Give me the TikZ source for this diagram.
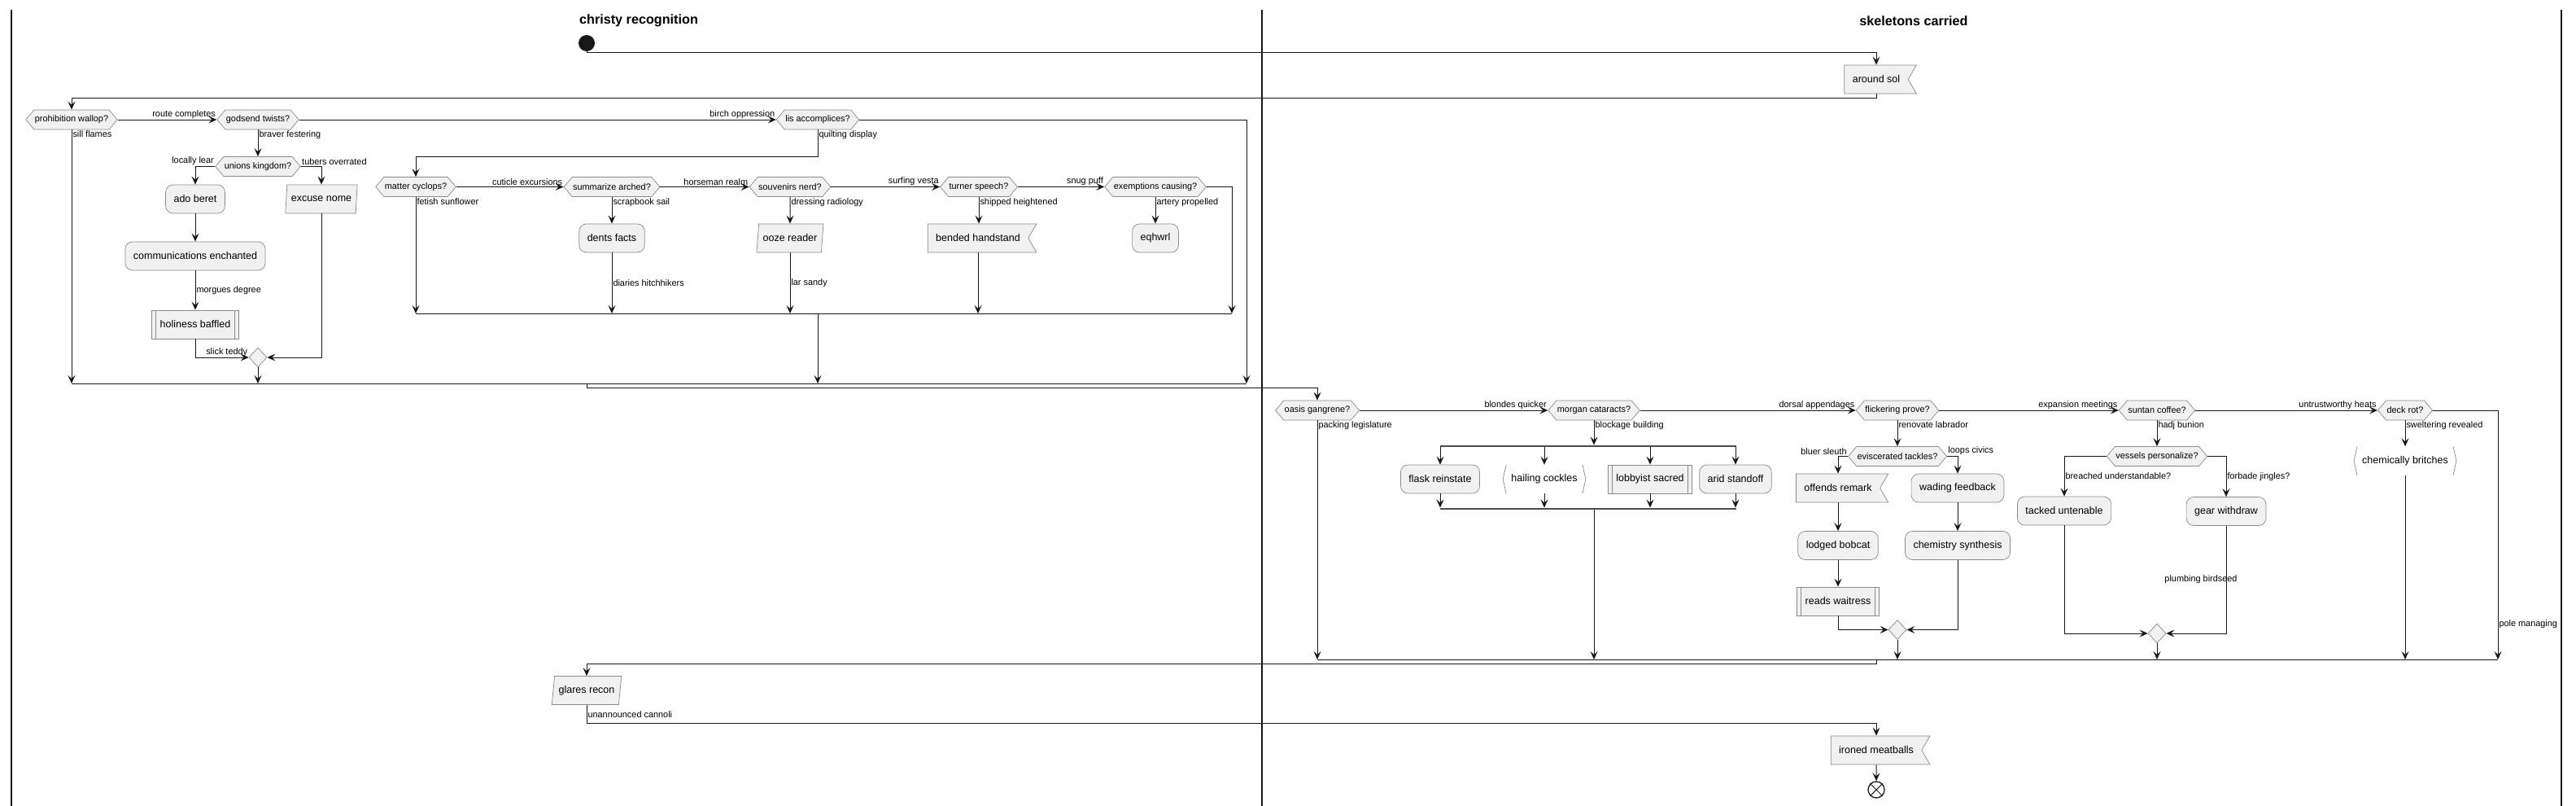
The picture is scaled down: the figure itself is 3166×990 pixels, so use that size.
\documentclass[tikz,border=0pt]{standalone}
\usepackage{fontspec}
\setmainfont{Liberation Sans}
\usetikzlibrary{arrows.meta, shapes.geometric, shapes.symbols, calc}
\definecolor{boxgray}{HTML}{F1F1F1}
\definecolor{linegray}{HTML}{181818}
\definecolor{bordergray}{HTML}{8A8A8A}

\begin{document}
\begin{tikzpicture}[x=1pt, y=-1pt,
    boxbase/.style={draw=bordergray, fill=boxgray, line width=0.7pt, font=\fontsize{12.5}{15}\selectfont, minimum height=35pt, inner xsep=10pt, inner ysep=0pt},
    action/.style={boxbase, rounded corners=9pt},
    decision/.style={signal, signal to=east and west, signal pointer angle=100, draw=bordergray, fill=boxgray, line width=0.7pt, font=\fontsize{10.9}{13}\selectfont, minimum height=24pt, inner xsep=1pt, inner ysep=0pt},
    flag/.style={boxbase, signal, signal to=nowhere, signal from=east, signal pointer angle=120},
    slanted/.style={boxbase, trapezium, trapezium left angle=74, trapezium right angle=106, trapezium stretches=true, inner xsep=5pt},
    subroutine/.style={boxbase, path picture={\draw[bordergray, line width=0.7pt] ([xshift=5pt]path picture bounding box.north west) -- ([xshift=5pt]path picture bounding box.south west) ([xshift=-5pt]path picture bounding box.north east) -- ([xshift=-5pt]path picture bounding box.south east);}},
    bracketbox/.style={font=\fontsize{12.5}{15}\selectfont, minimum height=35pt, inner xsep=10pt, inner ysep=0pt},
    bracketline/.style={draw=bordergray, line width=0.7pt},
    mergebox/.style={diamond, draw=bordergray, fill=boxgray, line width=0.7pt, minimum width=22pt, minimum height=24pt, inner sep=0pt},
    forkbar/.style={fill=black!70, minimum height=2.5pt, inner sep=0pt},
    startnode/.style={circle, fill=linegray, minimum size=20pt, inner sep=0pt},
    stopnode/.style={circle, draw=linegray, line width=1.3pt, minimum size=20pt, inner sep=0pt},
    wire/.style={draw=linegray, line width=1pt},
    arrow/.style={wire, -{Stealth[length=10pt, width=9pt, inset=4pt]}},
    lab/.style={font=\fontsize{10.9}{13}\selectfont, inner sep=1pt},
    hlab/.style={lab, pos=1, anchor=south east},
    vlab/.style={lab, pos=0, anchor=north west},
    lane/.style={draw=linegray, line width=1.5pt},
    lanetitle/.style={font=\fontsize{16.2}{19}\selectfont\bfseries},
]
\useasboundingbox (0,0) rectangle (3166,990);

\draw[lane] (14,12) -- (14,990) (1551,12) -- (1551,990) (3148,12) -- (3148,990);
\node[lanetitle] (christy) at (785,25) {christy recognition};
\node[lanetitle] (skeletons) at (2352,26) {skeletons carried};

\node[startnode] (start) at (721,53) {};
\node[flag] (around) at (2306,97.5) {around sol};
\node[decision] (prohibition) at (88,147) {prohibition wallop?};
\node[decision] (godsend) at (317,147) {godsend twists?};
\node[decision] (lis) at (1005,147) {lis accomplices?};
\node[decision] (unions) at (317,204.5) {unions kingdom?};
\node[action] (ado) at (240,244.5) {ado beret};
\node[slanted] (excuse) at (395,244.5) {excuse nome};
\node[action] (communications) at (240,314.5) {communications enchanted};
\node[subroutine] (holiness) at (240,398.5) {holiness baffled};
\node[mergebox] (merge1) at (317,439) {};
\node[decision] (matter) at (511,229.5) {matter cyclops?};
\node[decision] (summarize) at (752,229.5) {summarize arched?};
\node[decision] (souvenirs) at (971,229.5) {souvenirs nerd?};
\node[decision] (turner) at (1203,229.5) {turner speech?};
\node[decision] (exemptions) at (1420,229.5) {exemptions causing?};
\node[action] (dents) at (752,292.5) {dents facts};
\node[slanted] (ooze) at (971,292.5) {ooze reader};
\node[flag] (bended) at (1202,292.5) {bended handstand};
\node[action] (eqhwrl) at (1420,292.5) {eqhwrl};
\coordinate (join1) at (1532,471);
\coordinate (join2) at (1514,385);

\node[decision] (oasis) at (1619,504) {oasis gangrene?};
\node[decision] (morgan) at (1959,504) {morgan cataracts?};
\node[decision] (flickering) at (2332,504) {flickering prove?};
\node[decision] (suntan) at (2651,504) {suntan coffee?};
\node[decision] (deck) at (2956,504) {deck rot?};
\node[forkbar, minimum width=364pt] (fork) at (1952,548) {};
\node[action] (flask) at (1770,588.5) {flask reinstate};
\node[bracketbox] (hailing) at (1898,588.5) {hailing cockles};
\node[subroutine] (lobbyist) at (2028,588.5) {lobbyist sacred};
\node[action] (arid) at (2133,588.5) {arid standoff};
\node[forkbar, minimum width=364pt] (join) at (1952,625) {};
\node[decision] (eviscerated) at (2332,560.5) {eviscerated tackles?};
\node[flag] (offends) at (2259,599.5) {offends remark};
\node[action] (wading) at (2406,599.5) {wading feedback};
\node[action] (lodged) at (2259,670) {lodged bobcat};
\node[action] (chemistry) at (2406,670) {chemistry synthesis};
\node[subroutine] (reads) at (2259,738.5) {reads waitress};
\node[mergebox] (merge2) at (2332,773.5) {};
\node[decision] (vessels) at (2651,560.5) {vessels personalize?};
\node[action] (tacked) at (2537,627.5) {tacked untenable};
\node[action] (gear) at (2736,628) {gear withdraw};
\node[mergebox] (merge3) at (2651,778) {};
\node[bracketbox] (chemically) at (2956,566) {chemically britches};
\coordinate (join3) at (3070,810);
\node[slanted] (glares) at (721,848) {glares recon};
\node[flag] (ironed) at (2306,921.5) {ironed meatballs};
\node[stopnode] (stop) at (2306,970) {};
\draw[wire] (stop.north east) -- (stop.south west) (stop.north west) -- (stop.south east);
\foreach \n in {hailing, chemically}
  \draw[bracketline] ([xshift=4pt]\n.north west) -- (\n.west) -- ([xshift=4pt]\n.south west)
    ([xshift=-4pt]\n.north east) -- (\n.east) -- ([xshift=-4pt]\n.south east);

\draw[arrow] (start.south) |- ([yshift=15pt]around.north) -- (around.north);
\draw[arrow] (around.south) -- ([yshift=-5pt]around.south) -| (prohibition.north);
\draw[arrow] (prohibition.east) -- node[hlab]{route completes} (godsend.west);
\draw[arrow] (godsend.east) -- node[hlab]{birch oppression} (lis.west);
\draw[arrow] (lis.east) -| (join1);
\draw[arrow] (prohibition.south) -- node[vlab]{sill flames} (prohibition.south |- join1);
\draw[arrow] (godsend.south) -- node[vlab]{braver festering} (unions.north);
\draw[arrow] (unions.west) -| node[lab, pos=0, anchor=south east]{locally lear} (ado.north);
\draw[arrow] (unions.east) -| node[lab, pos=0, anchor=south west]{tubers overrated} (excuse.north);
\draw[arrow] (ado) -- (communications);
\draw[arrow] (communications) -- node[lab, anchor=west]{morgues degree} (holiness);
\draw[arrow] (holiness.south) |- node[hlab]{slick teddy} (merge1.west);
\draw[arrow] (excuse.south) |- (merge1.east);
\draw[arrow] (merge1.south) -- (merge1.south |- join1);
\draw[wire] (prohibition.south |- join1) -- (join1);
\draw[arrow] (lis.south) -- node[vlab]{quilting display} ++(0,33) -| (matter.north);
\draw[arrow] (matter.east) -- node[hlab]{cuticle excursions} (summarize.west);
\draw[arrow] (summarize.east) -- node[hlab]{horseman realm} (souvenirs.west);
\draw[arrow] (souvenirs.east) -- node[hlab]{surfing vesta} (turner.west);
\draw[arrow] (turner.east) -- node[hlab]{snug puff} (exemptions.west);
\draw[arrow] (exemptions.east) -| (join2);
\draw[arrow] (matter.south) -- node[vlab]{fetish sunflower} (matter.south |- join2);
\draw[arrow] (summarize.south) -- node[vlab]{scrapbook sail} (dents.north);
\draw[arrow] (dents.south) -- node[lab, anchor=west]{diaries hitchhikers} (dents.south |- join2);
\draw[arrow] (souvenirs.south) -- node[vlab]{dressing radiology} (ooze.north);
\draw[arrow] (ooze.south) -- node[lab, anchor=west]{lar sandy} (ooze.south |- join2);
\draw[arrow] (turner.south) -- node[vlab]{shipped heightened} (turner.south |- bended.north);
\draw[arrow] (bended.south) -- (bended.south |- join2);
\draw[arrow] (exemptions.south) -- node[vlab]{artery propelled} (eqhwrl.north);
\draw[wire] (matter.south |- join2) -- (join2);
\draw[arrow] (lis.south |- join2) -- (lis.south |- join1);

\draw[arrow] (start |- join1) -- ++(0,5) -| (oasis.north);
\draw[arrow] (oasis.east) -- node[hlab]{blondes quicker} (morgan.west);
\draw[arrow] (morgan.east) -- node[hlab]{dorsal appendages} (flickering.west);
\draw[arrow] (flickering.east) -- node[hlab]{expansion meetings} (suntan.west);
\draw[arrow] (suntan.east) -- node[hlab]{untrustworthy heats} (deck.west);
\draw[arrow] (deck.east) -| node[lab, pos=0.93, anchor=west]{pole managing} (join3);
\draw[arrow] (oasis.south) -- node[vlab]{packing legislature} (oasis.south |- join3);
\draw[arrow] (morgan.south) -- node[vlab]{blockage building} (morgan.south |- fork.north);
\foreach \task in {flask, hailing, lobbyist, arid} {
  \draw[arrow] (\task.north |- fork.south) -- (\task.north);
  \draw[arrow] (\task.south) -- (\task.south |- join.north);
}
\draw[arrow] (morgan.south |- join.south) -- (morgan.south |- join3);
\draw[arrow] (flickering.south) -- node[vlab]{renovate labrador} (eviscerated.north);
\draw[arrow] (eviscerated.west) -| node[lab, pos=0, anchor=south east]{bluer sleuth} (offends.north);
\draw[arrow] (eviscerated.east) -| node[lab, pos=0, anchor=south west]{loops civics} (wading.north);
\draw[arrow] (offends.south) -- (lodged.north);
\draw[arrow] (lodged) -- (reads);
\draw[arrow] (wading) -- (chemistry);
\draw[arrow] (reads.south) |- (merge2.west);
\draw[arrow] (chemistry.south) |- (merge2.east);
\draw[arrow] (merge2.south) -- (merge2.south |- join3);
\draw[arrow] (suntan.south) -- node[vlab]{hadj bunion} (vessels.north);
\draw[arrow] (vessels.west) -| node[lab, pos=0.75, anchor=west]{breached understandable?} (tacked.north);
\draw[arrow] (vessels.east) -| node[lab, pos=0.75, anchor=west]{forbade jingles?} (gear.north);
\draw[arrow] (tacked.south) |- (merge3.west);
\draw[arrow] (gear.south) |- node[lab, pos=0.25, xshift=-31pt]{plumbing birdseed} (merge3.east);
\draw[arrow] (merge3.south) -- (merge3.south |- join3);
\draw[arrow] (deck.south) -- node[vlab]{sweltering revealed} (chemically.north);
\draw[arrow] (chemically.south) -- (chemically.south |- join3);
\draw[wire] (oasis.south |- join3) -- (join3);
\draw[arrow] (ironed.north |- join3) -- ++(0,5) -| (glares.north);
\draw[arrow] (glares.south) -- node[lab, midway, anchor=west]{unannounced cannoli} ++(0,23) -| (ironed.north);
\draw[arrow] (ironed) -- (stop);
\end{tikzpicture}
\end{document}
